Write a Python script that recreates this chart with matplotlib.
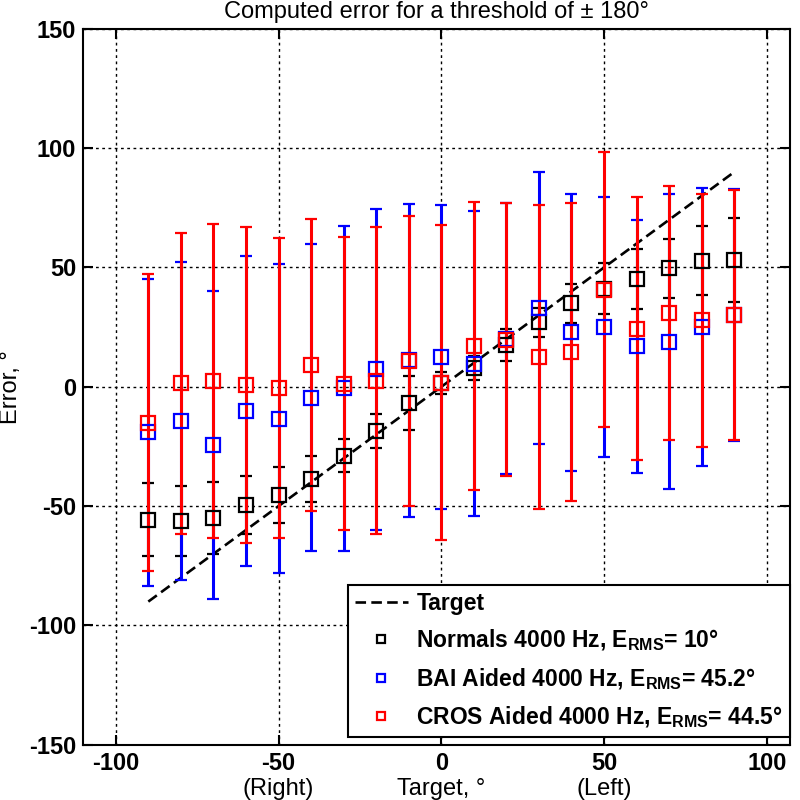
import numpy as np
import matplotlib
matplotlib.use("Agg")
from matplotlib import pyplot as plt

plt.rcParams['font.family'] = ['Liberation Sans', 'DejaVu Sans']
plt.rcParams['mathtext.fontset'] = 'custom'
plt.rcParams['mathtext.rm'] = 'Liberation Sans:bold'
plt.rcParams['mathtext.it'] = 'Liberation Sans:bold'
plt.rcParams['mathtext.bf'] = 'Liberation Sans:bold'
plt.rcParams['axes.unicode_minus'] = False

# target angles, degrees
target = [-90, -80, -70, -60, -50, -40, -30, -20, -10, 0,
          10, 20, 30, 40, 50, 60, 70, 80, 90]

normals_mean = [-55.8, -56.3, -55, -49.5, -45.3, -38.6, -28.8, -18.6, -6.9, 1.5,
                8, 17.7, 27, 35, 41.1, 45, 49.7, 52.9, 53]
normals_sd = [15.3, 14.7, 15, 12.3, 11.7, 9.8, 7, 7, 11.3, 4.5,
              5, 6.7, 6, 8.2, 10.8, 12.6, 12.4, 14.5, 17.6]

bai_mean = [-19, -14.3, -24.4, -10.2, -13.3, -4.5, -0.7, 7.4, 11.1, 12.6,
            9.7, 20.2, 33, 22.8, 25.1, 16.9, 18.8, 25.1, 30.2]
bai_sd = [64.3, 66.8, 64.4, 64.9, 64.7, 64.5, 68, 67.2, 65.6, 63.6,
          64, 56.9, 56.9, 57.9, 54.4, 52.9, 61.8, 58.4, 52.8]

cros_mean = [-15, 1.4, 2.4, 0.6, -0.5, 9.2, 1.3, 2.6, 10.7, 1.8,
             17, 19.7, 12.5, 14.5, 40.7, 24.4, 30.8, 27.8, 30]
cros_sd = [62.2, 62.9, 65.8, 66.2, 63, 61.2, 61.3, 64.2, 60.7, 65.8,
           60.4, 57.2, 63.5, 62.4, 57.6, 55.1, 53.2, 52.9, 52.4]

labels = ['Target',
          r'Normals 4000 Hz, E$_{\mathrm{RMS}}$= 10°',
          r'BAI Aided 4000 Hz, E$_{\mathrm{RMS}}$= 45.2°',
          r'CROS Aided 4000 Hz, E$_{\mathrm{RMS}}$= 44.5°']

fig = plt.figure(figsize=(8, 8), dpi=100)
ax = fig.add_axes([0.104, 0.069, 0.883, 0.895])

ax.plot(target, target, color='k', ls=(0, (4, 2)), lw=1.9, label=labels[0])

series = [(normals_mean, normals_sd, 'k', labels[1]),
          (bai_mean, bai_sd, 'b', labels[2]),
          (cros_mean, cros_sd, 'r', labels[3])]
for mean, sd, c, lab in series:
    ax.errorbar(target, mean, yerr=sd, fmt='s', color=c, ecolor=c,
                mfc='none', mec=c, ms=9.5, mew=1.6, elinewidth=2.2,
                capsize=4.5, capthick=2.2, label=lab)

ax.set_xlim(-110, 107)
ax.set_ylim(-150, 150)
ax.set_xticks([-100, -50, 0, 50, 100])
ax.set_yticks([-150, -100, -50, 0, 50, 100, 150])
ax.grid(True, color='k', ls=(0, (2, 2.5)), lw=1.0)
ax.tick_params(direction='in', length=7, width=1.5, top=True, right=True,
               labelsize=17, pad=5)
for t in ax.get_xticklabels() + ax.get_yticklabels():
    t.set_fontweight('bold')
for s in ax.spines.values():
    s.set_linewidth(1.5)

ax.set_title('Computed error for a threshold of ± 180°', fontsize=17, pad=8)
ax.set_ylabel('Error, °', fontsize=17)
ax.yaxis.set_label_coords(-0.086, 0.5)
for xpos, txt in [(-50, '(Right)'), (0, 'Target, °'), (50, '(Left)')]:
    ax.annotate(txt, xy=(xpos, 0), xycoords=('data', 'axes fraction'),
                xytext=(0, -36), textcoords='offset points',
                ha='center', va='baseline', fontsize=17)

h, l = ax.get_legend_handles_labels()
handles = [h[0]] + [hh[0] for hh in h[1:]]
leg = ax.legend(handles, l, loc='lower right', bbox_to_anchor=(1.0, 0.011),
                borderaxespad=0, fancybox=False, framealpha=1,
                edgecolor='k', markerscale=0.65, handlelength=2.35,
                handletextpad=0.35, prop={'size': 16.5, 'weight': 'bold'},
                labelspacing=0.55, borderpad=0.3)
leg.get_frame().set_linewidth(1.5)

plt.savefig('out.png', dpi=100)
